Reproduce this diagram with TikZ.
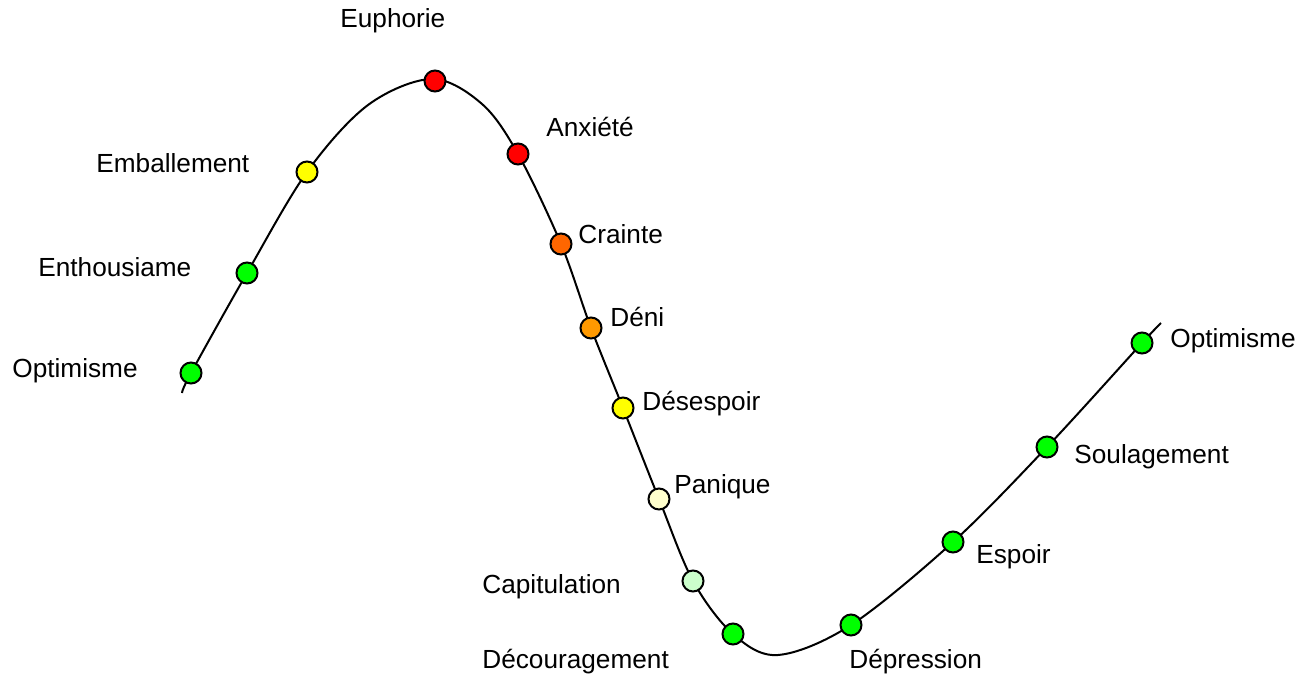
\documentclass[tikz,border=0pt]{standalone}
\usepackage{fontspec}
\setmainfont{Liberation Sans}
\definecolor{cgreen}{HTML}{00FF00}
\definecolor{cyellow}{HTML}{FFFF00}
\definecolor{cred}{HTML}{FF0000}
\definecolor{corangeA}{HTML}{FF6600}
\definecolor{corangeB}{HTML}{FF9900}
\definecolor{cpale}{HTML}{FFFFCC}
\definecolor{cpalegreen}{HTML}{CCFFCC}
\begin{document}
\begin{tikzpicture}[x=0.5pt,y=-0.5pt,
  dot/.style={circle,draw=black,line width=1pt,minimum size=10.5pt,inner sep=0pt},
  lbl/.style={anchor=base west,inner sep=0pt,font=\fontsize{13.1}{15}\selectfont},
  curve/.style={line width=1pt,black}]
\useasboundingbox (0,0) rectangle (1304,678);
% curve path points
\coordinate (s) at (182,393);
\coordinate (p1) at (191,373);
\coordinate (p2) at (247,273);
\coordinate (p3) at (307,172);
\coordinate (m1) at (368,105);
\coordinate (p4) at (432,79);
\coordinate (m3) at (482,104);
\coordinate (p5) at (518,154);
\coordinate (p6) at (561,244);
\coordinate (p7) at (591,328);
\coordinate (p8) at (623,408);
\coordinate (p9) at (659,499);
\coordinate (p10) at (693,581);
\coordinate (p11) at (733,634);
\coordinate (m4) at (778,655);
\coordinate (p12) at (851,625);
\coordinate (p13) at (953,542);
\coordinate (p14) at (1047,447);
\coordinate (p15) at (1142,343);
\coordinate (e) at (1161,323);
\draw[curve] plot[smooth,tension=0.55] coordinates {(s) (p1) (p2) (p3) (m1) (p4) (m3) (p5) (p6) (p7) (p8) (p9) (p10) (p11) (m4) (p12) (p13) (p14) (p15) (e)};
% dots
\node[dot,fill=cgreen] (n1) at (191,373) {};
\node[dot,fill=cgreen] (n2) at (247,273) {};
\node[dot,fill=cyellow] (n3) at (307,172) {};
\node[dot,fill=cred] (n4) at (435,81) {};
\node[dot,fill=cred] (n5) at (518,154) {};
\node[dot,fill=corangeA] (n6) at (561,244) {};
\node[dot,fill=corangeB] (n7) at (591,328) {};
\node[dot,fill=cyellow] (n8) at (623,408) {};
\node[dot,fill=cpale] (n9) at (659,499) {};
\node[dot,fill=cpalegreen] (n10) at (693,581) {};
\node[dot,fill=cgreen] (n11) at (733,634) {};
\node[dot,fill=cgreen] (n12) at (851,625) {};
\node[dot,fill=cgreen] (n13) at (953,542) {};
\node[dot,fill=cgreen] (n14) at (1047,447) {};
\node[dot,fill=cgreen] (n15) at (1142,343) {};
% labels
\node[lbl] (t1) at (12,377) {Optimisme};
\node[lbl] (t2) at (38,277) {Enthousiame};
\node[lbl] (t3) at (96,173) {Emballement};
\node[lbl] (t4) at (340,28) {Euphorie};
\node[lbl] (t5) at (546,137) {Anxiété};
\node[lbl] (t6) at (578,244) {Crainte};
\node[lbl] (t7) at (610,327) {Déni};
\node[lbl] (t8) at (642,410) {Désespoir};
\node[lbl] (t9) at (674,493) {Panique};
\node[lbl] (t10) at (482,593) {Capitulation};
\node[lbl] (t11) at (482,668) {Découragement};
\node[lbl] (t12) at (849,668) {Dépression};
\node[lbl] (t13) at (976,563) {Espoir};
\node[lbl] (t14) at (1074,463) {Soulagement};
\node[lbl] (t15) at (1170,347) {Optimisme};
\end{tikzpicture}
\end{document}
